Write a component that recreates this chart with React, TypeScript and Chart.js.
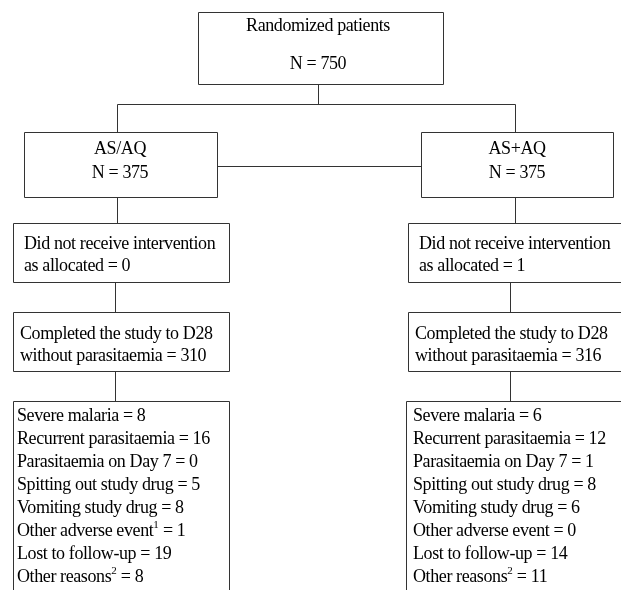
import React, { useEffect, useRef } from "react";
import { Chart, registerables } from "chart.js";

Chart.register(...registerables);

// ---- content ----
const topTitle = "Randomized patients";
const totalN = 750;
const armNames = ["AS/AQ", "AS+AQ"];
const armN = [375, 375];
const notReceived = [0, 1];
const completed = [310, 316];
const reasonLabels = [
  "Severe malaria",
  "Recurrent parasitaemia",
  "Parasitaemia on Day 7",
  "Spitting out study drug",
  "Vomiting study drug",
  "Other adverse event",
  "Lost to follow-up",
  "Other reasons",
];
const reasonsLeft = [8, 16, 0, 5, 8, 1, 19, 8];
const reasonsRight = [6, 12, 1, 8, 6, 0, 14, 11];
const supLeft = ["", "", "", "", "", "1", "", "2"];
const supRight = ["", "", "", "", "", "", "", "2"];

const FONT = '"Liberation Serif", "Times New Roman", serif';
const LINE = "#333333";

type Rect = [number, number, number, number, boolean?];

const flowPlugin = {
  id: "flow",
  afterDraw(chart: any) {
    const ctx: CanvasRenderingContext2D = chart.ctx;
    const sx = chart.scales.x;
    const sy = chart.scales.y;
    const px = (v: number) => sx.getPixelForValue(v);
    const py = (v: number) => sy.getPixelForValue(v);

    ctx.save();
    ctx.strokeStyle = LINE;
    ctx.lineWidth = 1;
    const line = (x1: number, y1: number, x2: number, y2: number) => {
      ctx.beginPath();
      ctx.moveTo(Math.round(px(x1)) + 0.5, Math.round(py(y1)) + 0.5);
      ctx.lineTo(Math.round(px(x2)) + 0.5, Math.round(py(y2)) + 0.5);
      ctx.stroke();
    };
    const rect = (r: Rect) => {
      const [x1, y1, x2, y2, open] = r;
      line(x1, y1, x2, y1);
      line(x1, y1, x1, y2);
      line(x2, y1, x2, y2);
      if (!open) line(x1, y2, x2, y2);
    };

    // boxes
    const boxes: Rect[] = [
      [198, 12, 443, 84],
      [24, 132, 217, 197],
      [421, 132, 613, 197],
      [13, 223, 229, 282],
      [408, 223, 640, 282],
      [13, 312, 229, 371],
      [408, 312, 640, 371],
      [13, 401, 229, 600, true],
      [406, 401, 640, 600, true],
    ];
    boxes.forEach(rect);

    // connectors
    line(318, 84, 318, 104);
    line(117, 104, 515, 104);
    line(117, 104, 117, 132);
    line(515, 104, 515, 132);
    line(217, 166, 421, 166);
    line(117, 197, 117, 223);
    line(515, 197, 515, 223);
    line(115, 282, 115, 312);
    line(510, 282, 510, 312);
    line(115, 371, 115, 401);
    line(510, 371, 510, 401);

    ctx.fillStyle = "#000";
    ctx.textBaseline = "middle";
    const setFont = (size: number, ls: string) => {
      ctx.font = `${size}px ${FONT}`;
      (ctx as any).letterSpacing = ls;
    };
    const text = (s: string, x: number, y: number, align: CanvasTextAlign, sup?: string) => {
      setFont(18, "-0.4px");
      ctx.textAlign = align;
      if (!sup) {
        ctx.fillText(s, px(x), py(y));
        return;
      }
      // label + superscript + rest
      const [head, tail] = s.split("\u0000");
      ctx.textAlign = "left";
      let cx = px(x);
      ctx.fillText(head, cx, py(y));
      cx += ctx.measureText(head).width;
      setFont(11, "0px");
      ctx.fillText(sup, cx, py(y) - 6);
      cx += ctx.measureText(sup).width;
      setFont(18, "-0.4px");
      ctx.fillText(tail, cx, py(y));
    };

    text(topTitle, 318, 26, "center");
    text(`N = ${totalN}`, 318, 64, "center");

    const armCx = [120, 517];
    const nrX = [24, 419];
    const compX = [20, 415];
    const listX = [17, 413];
    for (let i = 0; i < 2; i++) {
      text(armNames[i], armCx[i], 149, "center");
      text(`N = ${armN[i]}`, armCx[i], 173, "center");
      text("Did not receive intervention", nrX[i], 244, "left");
      text(`as allocated = ${notReceived[i]}`, nrX[i], 266, "left");
      text("Completed the study to D28", compX[i], 334, "left");
      text(`without parasitaemia = ${completed[i]}`, compX[i], 356, "left");
      const vals = i === 0 ? reasonsLeft : reasonsRight;
      const sups = i === 0 ? supLeft : supRight;
      reasonLabels.forEach((lab, k) => {
        const yy = 416 + k * 23;
        if (sups[k]) {
          text(`${lab}\u0000 = ${vals[k]}`, listX[i], yy, "left", sups[k]);
        } else {
          text(`${lab} = ${vals[k]}`, listX[i], yy, "left");
        }
      });
    }
    ctx.restore();
  },
};

export default function App() {
  const ref = useRef<HTMLCanvasElement>(null);
  useEffect(() => {
    document.body.style.margin = "0";
    const chart = new Chart(ref.current!, {
      type: "scatter",
      data: { datasets: [{ data: [] }] },
      options: {
        animation: false,
        responsive: false,
        layout: { padding: 0 },
        scales: {
          x: { type: "linear", min: 0, max: 621, display: false },
          y: { type: "linear", min: 0, max: 590, reverse: true, display: false },
        },
        plugins: { legend: { display: false }, tooltip: { enabled: false } },
      },
      plugins: [flowPlugin],
    });
    return () => chart.destroy();
  }, []);
  return (
    <div style={{ width: 621, height: 590, background: "#fff" }}>
      <canvas ref={ref} width={621} height={590} />
    </div>
  );
}
